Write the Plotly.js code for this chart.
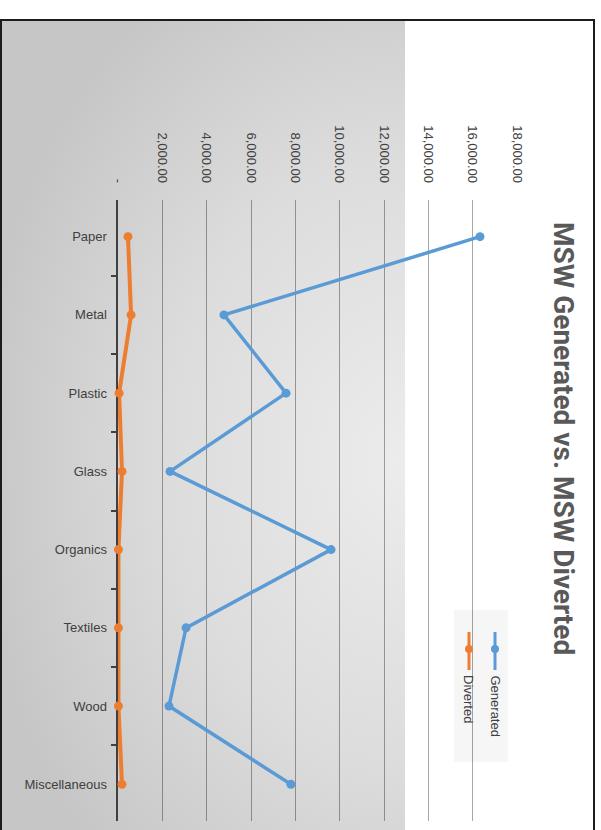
<!DOCTYPE html>
<html>
<head>
<meta charset="utf-8">
<script src="https://cdn.plot.ly/plotly-3.0.1.min.js"></script>
<style>
  html, body { margin: 0; padding: 0; background: #ffffff; }
  #wrap { position: relative; width: 601px; height: 830px; overflow: hidden; }
  #frame { position: absolute; left: 0; top: 19px; width: 591px; height: 830px;
           border: 2px solid #1c1c1c; border-bottom: none; }
  #shade { position: absolute; left: 2px; top: 21px; width: 403px; height: 809px;
           background: radial-gradient(ellipse 430px 560px at 400px 440px, #ececec 0%, #dcdcdc 55%, #c6c6c6 100%); }
  #chart { position: absolute; left: 0; top: 0; width: 601px; height: 830px; }
</style>
</head>
<body>
<div id="wrap">
  <div id="shade"></div>
  <div id="frame"></div>
  <div id="chart"></div>
</div>
<script>
const categories = ["Paper", "Metal", "Plastic", "Glass", "Organics", "Textiles", "Wood", "Miscellaneous"];
const generated = [16330, 4780, 7580, 2350, 9610, 3070, 2300, 7800];
const diverted = [450, 590, 50, 180, 20, 20, 20, 180];
const tickVals = [0, 2000, 4000, 6000, 8000, 10000, 12000, 14000, 16000, 18000];
const tickText = ["-", "2,000.00", "4,000.00", "6,000.00", "8,000.00", "10,000.00", "12,000.00", "14,000.00", "16,000.00", "18,000.00"];
const seriesNames = ["Generated", "Diverted"];
const titleText = "MSW Generated vs. MSW Diverted";

const blue = "#5B9BD5";
const orange = "#ED7D31";
const textColor = "#404040";

const traces = [
  { x: generated, y: categories, type: "scatter", mode: "lines+markers", name: seriesNames[0],
    line: { color: blue, width: 3.5 }, marker: { color: blue, size: 9, symbol: "circle" }, cliponaxis: false },
  { x: diverted, y: categories, type: "scatter", mode: "lines+markers", name: seriesNames[1],
    line: { color: orange, width: 4 }, marker: { color: orange, size: 9, symbol: "circle" }, cliponaxis: false }
];

// paper coordinate helpers (plot area: x 118..517, y 200..821)
const px = v => (v - 118) / 399;
const py = v => (821 - v) / 621;

const layout = {
  width: 601, height: 830,
  margin: { l: 118, r: 84, t: 200, b: 9 },
  paper_bgcolor: "rgba(0,0,0,0)",
  plot_bgcolor: "rgba(0,0,0,0)",
  showlegend: false,
  font: { family: "Liberation Sans, Arial, sans-serif", color: textColor },
  xaxis: {
    side: "top", range: [0, 18000], tickvals: tickVals, ticktext: tickText,
    tickangle: 90, tickfont: { size: 13, color: textColor },
    showgrid: true, gridcolor: "rgba(0,0,0,0.35)", gridwidth: 1,
    zeroline: false, showline: false, ticks: "", ticklabelstandoff: 14, fixedrange: true
  },
  yaxis: {
    type: "category", categoryorder: "array", categoryarray: categories,
    autorange: "reversed", tickson: "boundaries",
    ticks: "outside", ticklen: 5, tickwidth: 2, tickcolor: textColor,
    showline: true, linecolor: textColor, linewidth: 2.5,
    showgrid: false, zeroline: false, layer: "below traces",
    tickfont: { size: 13, color: textColor }, ticklabelstandoff: 6
  },
  shapes: [
    { type: "rect", xref: "paper", yref: "paper", x0: px(454), x1: px(508), y0: py(762), y1: py(610),
      fillcolor: "#f6f6f6", line: { width: 0 }, layer: "below" },
    { type: "line", xref: "paper", yref: "paper", x0: px(495), x1: px(495), y0: py(632), y1: py(670),
      line: { color: blue, width: 3 } },
    { type: "circle", xref: "paper", yref: "paper", x0: px(491), x1: px(499), y0: py(645), y1: py(653),
      fillcolor: blue, line: { color: blue, width: 0 } },
    { type: "line", xref: "paper", yref: "paper", x0: px(469), x1: px(469), y0: py(632), y1: py(670),
      line: { color: orange, width: 3 } },
    { type: "circle", xref: "paper", yref: "paper", x0: px(465), x1: px(473), y0: py(645), y1: py(653),
      fillcolor: orange, line: { color: orange, width: 0 } }
  ],
  annotations: [
    { text: "<b>" + titleText + "</b>", xref: "paper", yref: "paper", x: px(564), y: py(438),
      xanchor: "center", yanchor: "middle", textangle: 90, showarrow: false,
      font: { family: "Roboto, Liberation Sans, sans-serif", size: 28, color: "#595959" } },
    { text: seriesNames[0], xref: "paper", yref: "paper", x: px(495), y: py(673),
      xanchor: "center", yanchor: "top", textangle: 90, showarrow: false,
      font: { size: 13, color: textColor } },
    { text: seriesNames[1], xref: "paper", yref: "paper", x: px(469), y: py(673),
      xanchor: "center", yanchor: "top", textangle: 90, showarrow: false,
      font: { size: 13, color: textColor } }
  ]
};

Plotly.newPlot("chart", traces, layout, { displayModeBar: false, staticPlot: true });
</script>
</body>
</html>
